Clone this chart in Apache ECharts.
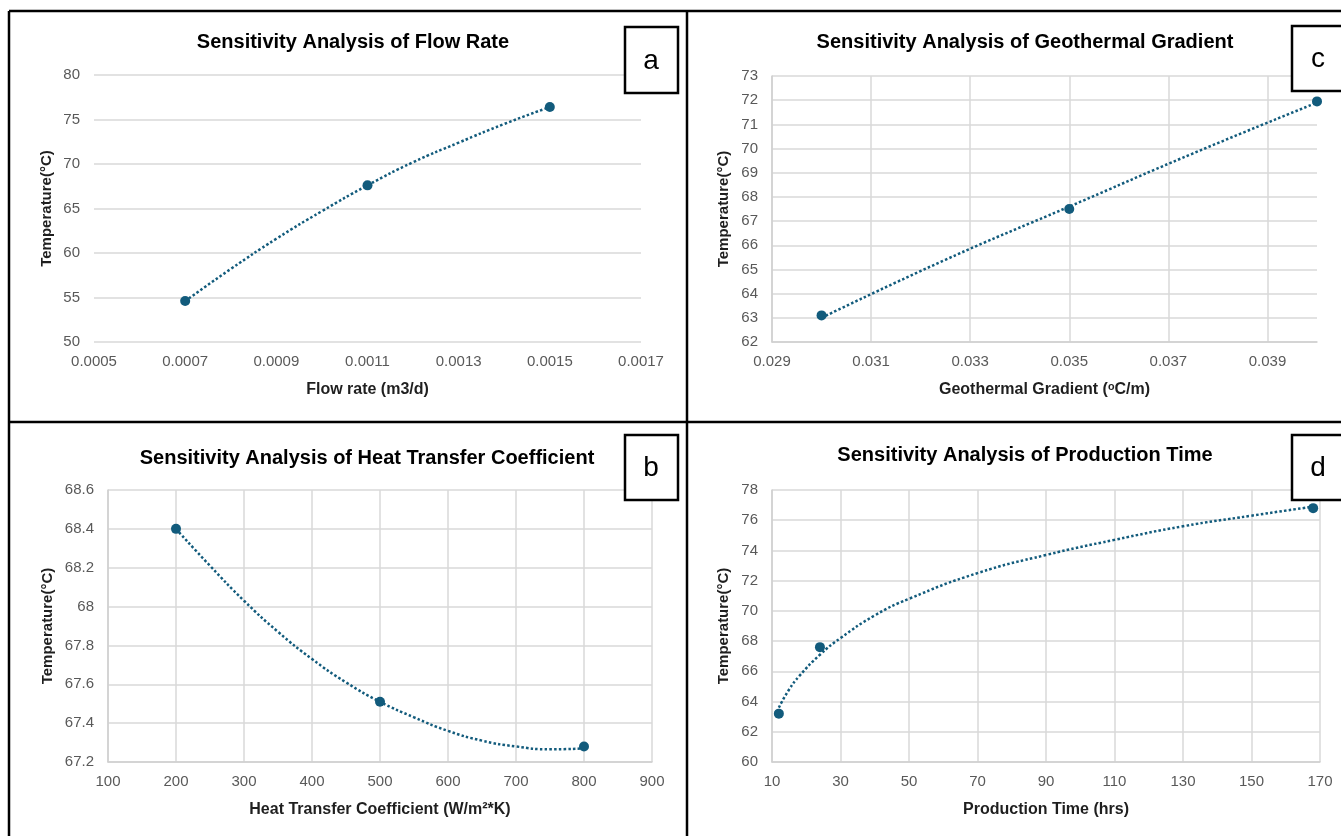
<!DOCTYPE html>
<html>
<head>
<meta charset="utf-8">
<script src="https://cdn.jsdelivr.net/npm/echarts@6/dist/echarts.min.js"></script>
<style>
  html, body { margin: 0; padding: 0; background: #fff; }
  #chart { width: 1341px; height: 836px; }
</style>
</head>
<body>
<div id="chart"></div>
<script>
// a - flow rate
const flowX = [0.0007, 0.0011, 0.0015]
const flowT = [54.6, 67.6, 76.4]
const flowTrendX = [0.0007, 0.0008, 0.0009, 0.0010, 0.0011, 0.0012, 0.0013, 0.0014, 0.0015]
const flowTrendT = [54.6, 58.2, 61.6, 64.7, 67.6, 70.2, 72.4, 74.5, 76.4]

// b - heat transfer coefficient
const htcX = [200, 500, 800]
const htcT = [68.40, 67.51, 67.28]
const htcTrendX = [200, 250, 300, 350, 400, 450, 500, 550, 600, 650, 700, 750, 800]
const htcTrendT = [68.40, 68.21, 68.03, 67.87, 67.73, 67.61, 67.51, 67.43, 67.36, 67.31, 67.28, 67.265, 67.27]

// c - geothermal gradient
const geoX = [0.030, 0.035, 0.040]
const geoT = [63.1, 67.5, 71.95]
const geoTrendX = [0.030, 0.0325, 0.035, 0.0375, 0.040]
const geoTrendT = [63.0, 65.4, 67.6, 69.8, 71.9]

// d - production time
const timeX = [12, 24, 168]
const timeT = [63.2, 67.6, 76.8]
const timeTrendX = [12, 15, 18, 24, 30, 40, 50, 70, 90, 110, 130, 150, 168]
const timeTrendT = [63.6, 64.8, 65.7, 67.1, 68.2, 69.7, 70.8, 72.5, 73.7, 74.7, 75.6, 76.3, 76.9]

const labels = ['a', 'b', 'c', 'd']

const blue = '#125b7c'
const sans = '"Liberation Sans", Arial, sans-serif'

function pairs(xs, ys) {
    return xs.map((x, i) => [x, ys[i]])
}

function xAxis(idx, min, max, interval, name, gap, opts) {
    opts = opts || {}
    return {
        type: 'value', gridIndex: idx, min: min, max: max, interval: interval,
        name: name, nameLocation: 'middle', nameGap: gap,
        nameTextStyle: { fontFamily: sans, fontWeight: 'bold', fontSize: 16, color: '#1f1f1f' },
        axisLine: { show: opts.line !== false, lineStyle: { color: '#cfcfcf', width: 1.5 } },
        axisTick: { show: false },
        axisLabel: {
            color: '#595959', fontFamily: sans, fontSize: 15, margin: 12,
            showMaxLabel: opts.showMax !== false,
            formatter: opts.fmt
        },
        splitLine: { show: opts.grid !== false, showMaxLine: opts.showMax !== false, lineStyle: { color: '#d9d9d9', width: 1.5 } }
    }
}

function yAxis(idx, min, max, interval, gap, opts) {
    opts = opts || {}
    return {
        type: 'value', gridIndex: idx, min: min, max: max, interval: interval,
        name: 'Temperature(°C)', nameLocation: 'middle', nameGap: gap,
        nameTextStyle: { fontFamily: sans, fontWeight: 'bold', fontSize: 15, color: '#1f1f1f' },
        axisLine: { show: opts.line !== false, lineStyle: { color: '#cfcfcf', width: 1.5 } },
        axisTick: { show: false },
        axisLabel: { color: '#595959', fontFamily: sans, fontSize: 15, margin: 14 },
        splitLine: { show: true, lineStyle: { color: '#d9d9d9', width: 1.5 } }
    }
}

function trend(idx, xs, ys) {
    return {
        type: 'line', xAxisIndex: idx, yAxisIndex: idx, data: pairs(xs, ys),
        smooth: true, symbol: 'none', z: 2,
        lineStyle: { color: blue, width: 2.5, type: [2.5, 2.2] }
    }
}

function pts(idx, xs, ys) {
    return {
        type: 'scatter', xAxisIndex: idx, yAxisIndex: idx, data: pairs(xs, ys),
        symbolSize: 10, z: 3, itemStyle: { color: blue, opacity: 1 }
    }
}

function title(text, x, y) {
    return {
        text: text, left: x, top: y, textAlign: 'center',
        textStyle: { fontFamily: sans, fontWeight: 'bold', fontSize: 20, color: '#000' }
    }
}

function labelBox(ch, x, y, w, h) {
    return [
        { type: 'rect', shape: { x: x, y: y, width: w, height: h }, style: { fill: '#fff', stroke: '#000', lineWidth: 2.5 }, z: 10 },
        { type: 'text', x: x + 26, y: y + h / 2 + 1, style: { text: ch, font: '28px ' + sans, fill: '#000', textAlign: 'center', textVerticalAlign: 'middle' }, z: 11 }
    ]
}

function frameLine(x1, y1, x2, y2) {
    return { type: 'line', shape: { x1: x1, y1: y1, x2: x2, y2: y2 }, style: { stroke: '#000', lineWidth: 2.5 }, z: 9 }
}

const chart = echarts.init(document.getElementById('chart'))

const option = {
    backgroundColor: '#fff',
    animation: false,
    title: [
        title('Sensitivity Analysis of Flow Rate', 348, 27),
        title('Sensitivity Analysis of Geothermal Gradient', 1020, 27),
        title('Sensitivity Analysis of Heat Transfer Coefficient', 362, 443),
        title('Sensitivity Analysis of Production Time', 1020, 440)
    ],
    grid: [
        { left: 94, top: 75, width: 547, height: 267 },
        { left: 772, top: 76, width: 545, height: 266 },
        { left: 108, top: 490, width: 544, height: 272 },
        { left: 772, top: 490, width: 548, height: 272 }
    ],
    xAxis: [
        xAxis(0, 0.0005, 0.0017, 0.0002, 'Flow rate (m3/d)', 40, { line: false, grid: false, fmt: v => v.toFixed(4) }),
        xAxis(1, 0.029, 0.040, 0.002, 'Geothermal Gradient (ᵒC/m)', 40, { showMax: false, fmt: v => v.toFixed(3) }),
        xAxis(2, 100, 900, 100, 'Heat Transfer Coefficient (W/m²*K)', 40),
        xAxis(3, 10, 170, 20, 'Production Time (hrs)', 40)
    ],
    yAxis: [
        yAxis(0, 50, 80, 5, 40, { line: false }),
        yAxis(1, 62, 73, 1, 41),
        yAxis(2, 67.2, 68.6, 0.2, 53),
        yAxis(3, 60, 78, 2, 41)
    ],
    series: [
        trend(0, flowTrendX, flowTrendT), pts(0, flowX, flowT),
        trend(1, geoTrendX, geoTrendT), pts(1, geoX, geoT),
        trend(2, htcTrendX, htcTrendT), pts(2, htcX, htcT),
        trend(3, timeTrendX, timeTrendT), pts(3, timeX, timeT)
    ],
    graphic: [
        frameLine(9, 11, 1341, 11),
        frameLine(9, 11, 9, 836),
        frameLine(687, 11, 687, 836),
        frameLine(9, 422, 1341, 422)
    ].concat(
        labelBox(labels[0], 625, 27, 53, 66),
        labelBox(labels[2], 1292, 26, 60, 65),
        labelBox(labels[1], 625, 435, 53, 65),
        labelBox(labels[3], 1292, 435, 60, 65)
    )
}

chart.setOption(option)
</script>
</body>
</html>
